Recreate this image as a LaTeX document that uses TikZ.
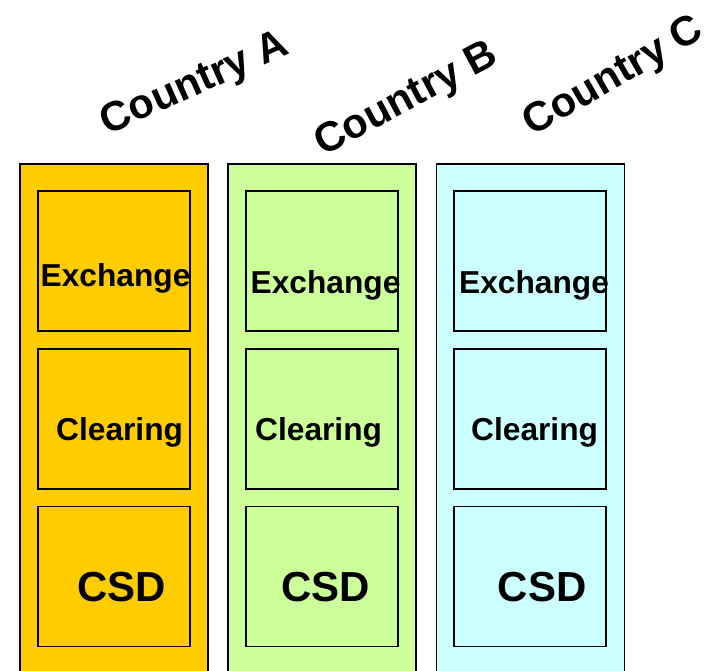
\documentclass[tikz,border=0pt]{standalone}
\usepackage{fontspec}
\setmainfont{Liberation Sans}
\definecolor{cA}{HTML}{FFCC00}
\definecolor{cB}{HTML}{CCFF99}
\definecolor{cC}{HTML}{CCFFFF}
\tikzset{
  outerbox/.style={draw=black, line width=1.6pt, minimum width=188pt, minimum height=530pt, inner sep=0pt},
  innerbox/.style={draw=black, line width=1.4pt, minimum width=152pt, minimum height=140pt, inner sep=0pt},
  midlabel/.style={anchor=base west, inner sep=0pt, font=\bfseries\fontsize{31.7}{31.7}\selectfont},
  csdlabel/.style={anchor=base west, inner sep=0pt, font=\bfseries\fontsize{42}{42}\selectfont},
  countrylabel/.style={inner sep=0pt, font=\bfseries\fontsize{41.5}{41.5}\selectfont}
}
\begin{document}
\begin{tikzpicture}[x=1pt,y=-1pt]
\useasboundingbox (0,0) rectangle (711,670);
% outer columns
\node[outerbox, fill=cA] (colA) at (114,429) {};
\node[outerbox, fill=cB] (colB) at (322,429) {};
\node[outerbox, fill=cC] (colC) at (530.5,429) {};
% inner boxes
\foreach \c/\x in {A/114, B/322, C/530} {
  \node[innerbox] (ex\c) at (\x,261) {};
  \node[innerbox] (cl\c) at (\x,419) {};
  \node[innerbox] (csd\c) at (\x,576.5) {};
}
% labels
\node[midlabel] (texA) at (40.5,286) {Exchange};
\node[midlabel] (texB) at (250.5,293.3) {Exchange};
\node[midlabel] (texC) at (459,293.3) {Exchange};
\node[midlabel] (tclA) at (56,440) {Clearing};
\node[midlabel] (tclB) at (255,440) {Clearing};
\node[midlabel] (tclC) at (471,440) {Clearing};
\node[csdlabel] (tcsdA) at (77,601) {CSD};
\node[csdlabel] (tcsdB) at (281,601) {CSD};
\node[csdlabel] (tcsdC) at (497.5,601) {CSD};
% country labels
\node[countrylabel, rotate=24] (ctA) at (195,85) {Country A};
\node[countrylabel, rotate=28] (ctB) at (407,100) {Country B};
\node[countrylabel, rotate=30] (ctC) at (614,78) {Country C};
\end{tikzpicture}
\end{document}
